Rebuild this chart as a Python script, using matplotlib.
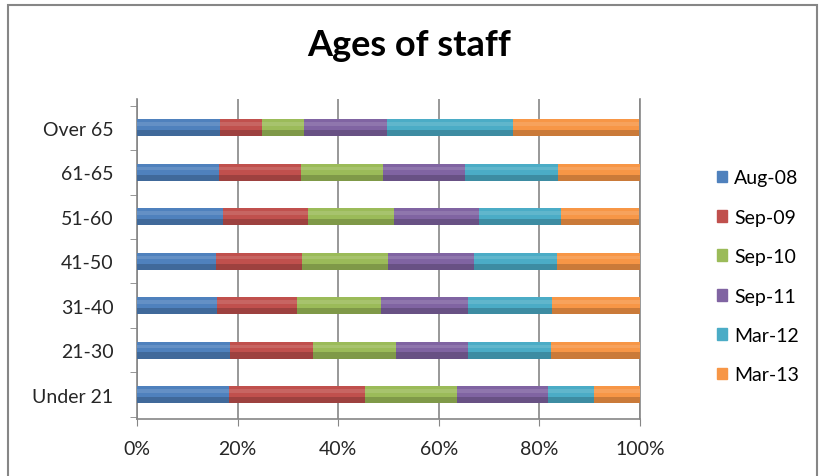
import matplotlib.pyplot as plt
import matplotlib.patches as mpatches
import numpy as np

plt.rcParams['font.family'] = ['Lato', 'DejaVu Sans']

# Data
ages = ["Under 21", "21-30", "31-40", "41-50", "51-60", "61-65", "Over 65"]
periods = ["Aug-08", "Sep-09", "Sep-10", "Sep-11", "Mar-12", "Mar-13"]
colors = ["#4F81BD", "#C0504D", "#9BBB59", "#8064A2", "#4BACC6", "#F79646"]

# share of each age group per period (%)
aug08 = [18.2, 18.4, 15.9, 15.8, 17.0, 16.3, 16.6]
sep09 = [27.2, 16.5, 15.9, 17.0, 17.0, 16.3, 8.3]
sep10 = [18.2, 16.6, 16.7, 17.1, 17.0, 16.3, 8.3]
sep11 = [18.2, 14.4, 17.3, 17.1, 17.0, 16.3, 16.6]
mar12 = [9.0, 16.5, 16.7, 16.4, 16.3, 18.5, 25.0]
mar13 = [9.3, 17.6, 17.6, 16.6, 15.6, 16.5, 25.0]
series = [aug08, sep09, sep10, sep11, mar12, mar13]

fig = plt.figure(figsize=(8.19, 4.77), dpi=100)
ax = fig.add_axes([137 / 819, 1 - 420 / 477, 503 / 819, 320 / 477])

# chart border
fig.patches.append(mpatches.Rectangle((8 / 819, -0.05), 809 / 819, 1 - 6 / 477 + 0.05,
                                      transform=fig.transFigure, fill=False,
                                      edgecolor="#868686", lw=1.5))

y = np.arange(len(ages))
h = 0.38
left = np.zeros(len(ages))
for vals, col, name in zip(series, colors, periods):
    vals = np.array(vals)
    ax.barh(y, vals, left=left, height=h, color=col, edgecolor="none", label=name, zorder=3)
    # a little shading to mimic the cylinder look
    ax.barh(y - h * 0.32, vals, left=left, height=h * 0.36, color="black", alpha=0.18,
            edgecolor="none", zorder=4)
    ax.barh(y + h * 0.22, vals, left=left, height=h * 0.22, color="white", alpha=0.12,
            edgecolor="none", zorder=4)
    left += vals

ax.set_xlim(0, 100)
ax.set_ylim(-0.55, 6.65)
ax.set_xticks([0, 20, 40, 60, 80, 100])
ax.set_xticklabels(["0%", "20%", "40%", "60%", "80%", "100%"], fontsize=14, color="#262626")
ax.set_yticks(y)
ax.set_yticklabels(ages, fontsize=14, color="#262626")
ax.set_yticks(np.arange(-0.5, 7.0, 1.0), minor=True)
ax.tick_params(axis="y", which="major", length=0, pad=17)
ax.tick_params(axis="y", which="minor", length=5, color="#868686")
ax.tick_params(axis="x", length=5, color="#868686", pad=10)

ax.grid(axis="x", color="#868686", lw=1.2, zorder=0)
ax.spines["top"].set_visible(False)
for s in ["left", "bottom", "right"]:
    ax.spines[s].set_color("#868686")
    ax.spines[s].set_linewidth(1.2)

fig.suptitle("Ages of staff", fontsize=26, fontweight="bold", y=0.94)

handles = [mpatches.Patch(color=c, label=p) for c, p in zip(colors, periods)]
fig.legend(handles=handles, loc="upper left", bbox_to_anchor=(699 / 819, 1 - 153 / 477),
           frameon=False, fontsize=14, labelspacing=1.15, handlelength=0.55,
           handleheight=0.55, handletextpad=0.35)

fig.savefig("out.png", dpi=100)
